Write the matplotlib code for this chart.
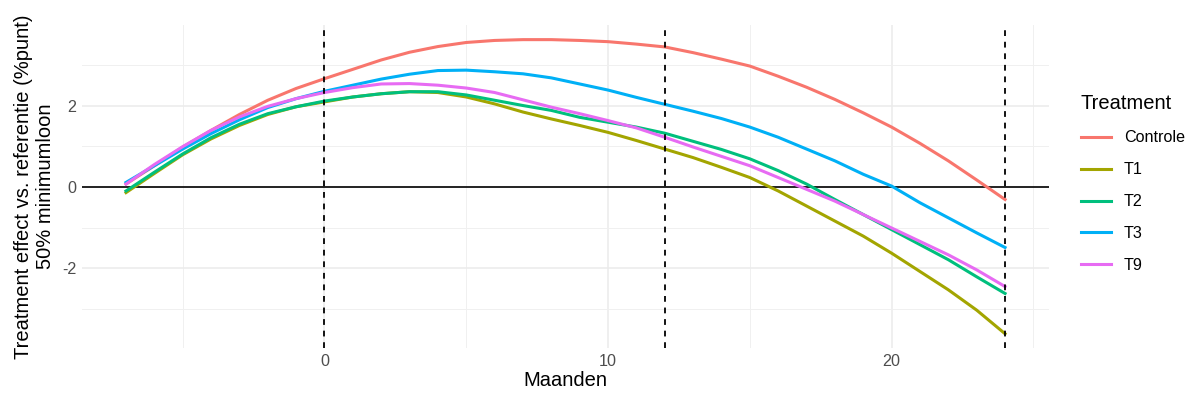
import matplotlib
matplotlib.use("Agg")
from matplotlib import pyplot as plt
from matplotlib.ticker import MultipleLocator

plt.rcParams['font.family'] = ['Liberation Sans', 'DejaVu Sans']
plt.rcParams['axes.unicode_minus'] = False

# Months since start
maanden = list(range(-7, 25))

controle = [0.07, 0.52, 0.98, 1.39, 1.78, 2.13, 2.42, 2.66, 2.89, 3.12, 3.31, 3.45,
            3.55, 3.60, 3.62, 3.62, 3.60, 3.57, 3.51, 3.44, 3.30, 3.14, 2.97, 2.72,
            2.45, 2.15, 1.82, 1.47, 1.07, 0.64, 0.17, -0.31]
t1 = [-0.14, 0.33, 0.79, 1.18, 1.51, 1.78, 1.97, 2.09, 2.21, 2.29, 2.34, 2.32,
      2.21, 2.04, 1.84, 1.67, 1.51, 1.34, 1.14, 0.93, 0.72, 0.48, 0.23, -0.10,
      -0.47, -0.84, -1.21, -1.63, -2.08, -2.53, -3.03, -3.61]
t2 = [-0.10, 0.36, 0.81, 1.21, 1.54, 1.80, 1.97, 2.11, 2.21, 2.29, 2.34, 2.34,
      2.26, 2.13, 2.00, 1.88, 1.71, 1.59, 1.47, 1.32, 1.12, 0.92, 0.69, 0.40,
      0.07, -0.31, -0.68, -1.05, -1.42, -1.79, -2.21, -2.62]
t3 = [0.11, 0.52, 0.93, 1.31, 1.65, 1.95, 2.17, 2.35, 2.50, 2.65, 2.77, 2.86,
      2.87, 2.83, 2.78, 2.68, 2.53, 2.38, 2.20, 2.03, 1.86, 1.68, 1.47, 1.22,
      0.93, 0.64, 0.31, 0.02, -0.39, -0.76, -1.13, -1.49]
t9 = [0.07, 0.55, 0.99, 1.39, 1.72, 1.98, 2.17, 2.32, 2.44, 2.53, 2.54, 2.50,
      2.43, 2.32, 2.14, 1.96, 1.80, 1.63, 1.45, 1.22, 0.98, 0.75, 0.52, 0.23,
      -0.06, -0.35, -0.68, -1.01, -1.34, -1.67, -2.04, -2.45]

treatments = ['Controle', 'T1', 'T2', 'T3', 'T9']
series = [controle, t1, t2, t3, t9]
colors = ['#F8766D', '#A3A500', '#00BF7D', '#00B0F6', '#E76BF3']
vlines = [0, 12, 24]

fig = plt.figure(figsize=(11.96, 4.03), dpi=100)
ax = fig.add_axes([0.0686, 0.1365, 0.8085, 0.8015])

# ggplot-like minimal theme
for s in ax.spines.values():
    s.set_visible(False)
ax.set_xlim(-8.55, 25.55)
ax.set_ylim(-3.96, 3.98)
ax.xaxis.set_major_locator(MultipleLocator(10))
ax.xaxis.set_minor_locator(MultipleLocator(5))
ax.yaxis.set_major_locator(MultipleLocator(2))
ax.yaxis.set_minor_locator(MultipleLocator(1))
ax.grid(which='major', color='#EBEBEB', linewidth=1.1)
ax.grid(which='minor', color='#F0F0F0', linewidth=0.7)
ax.set_axisbelow(True)
ax.tick_params(which='both', length=0, labelsize=11.6, labelcolor='#4D4D4D', pad=4)

ax.axhline(0, color='black', linewidth=1.2, zorder=1)
for v in vlines:
    ax.axvline(v, color='black', linewidth=1.3, linestyle=(0, (3.2, 3.2)), zorder=3)

for name, vals, c in zip(treatments, series, colors):
    ax.plot(maanden, vals, color=c, linewidth=2.2, label=name, zorder=2)

ax.set_xlabel('Maanden', fontsize=14.5, labelpad=2)
ax.set_ylabel('Treatment effect vs. referentie (%punt)\n50% minimumloon',
              fontsize=14.5, labelpad=5, linespacing=1.2)

leg = ax.legend(title='Treatment', loc='upper left', bbox_to_anchor=(1.026, 0.805),
                frameon=False, fontsize=11.6, title_fontsize=14.5,
                handlelength=1.9, handletextpad=0.8, labelspacing=1.05,
                alignment='left', borderaxespad=0)

fig.savefig('out.png', dpi=100)
